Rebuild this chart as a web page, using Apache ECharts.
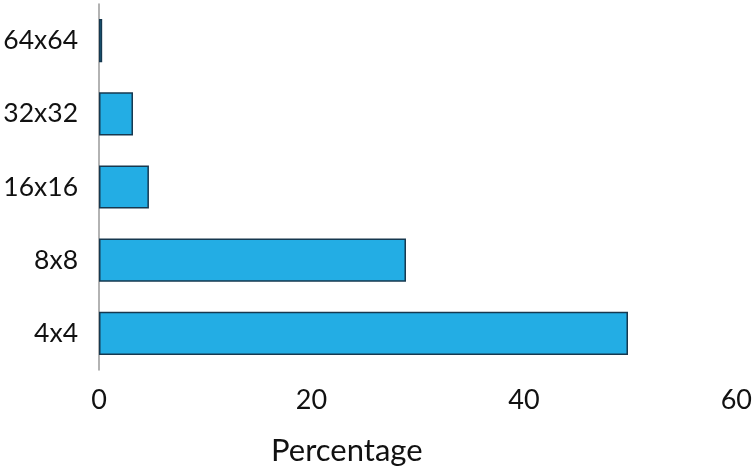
<!DOCTYPE html>
<html><head><meta charset="utf-8">
<script src="https://cdn.jsdelivr.net/npm/echarts@6/dist/echarts.min.js"></script>
<style>html,body{margin:0;padding:0;background:#fff}#c{width:755px;height:473px}</style>
</head><body><div id="c"></div>
<script>
const categories = ["4x4", "8x8", "16x16", "32x32", "64x64"];
const percentages = [49.8, 28.9, 4.7, 3.2, 0.3];
const xTicks = [0, 20, 40, 60];
const xTitle = "Percentage";

const chart = echarts.init(document.getElementById('c'));
chart.setOption({
  animation: false,
  title: {
    text: xTitle, left: 266, top: 430,
    textStyle: {fontFamily: 'Lato', fontSize: 31, fontWeight: 'normal', color: '#111'}
  },
  grid: {left: 99, right: 17, top: 4, bottom: 103},
  xAxis: {
    type: 'value', min: xTicks[0], max: xTicks[xTicks.length - 1], interval: 20,
    axisLine: {show: false}, axisTick: {show: false}, splitLine: {show: false},
    axisLabel: {fontFamily: 'Lato', fontSize: 27, color: '#111', margin: 17}
  },
  yAxis: {
    type: 'category', data: categories,
    axisLine: {show: true, lineStyle: {color: '#9a9a9a', width: 1.5}},
    axisTick: {show: false},
    axisLabel: {fontFamily: 'Lato', fontSize: 26.5, color: '#111', margin: 21}
  },
  series: [{
    type: 'bar', data: percentages, barCategoryGap: '41%',
    itemStyle: {color: '#23ade4', borderColor: '#16384f', borderWidth: 1.5}
  }]
});
</script></body></html>
